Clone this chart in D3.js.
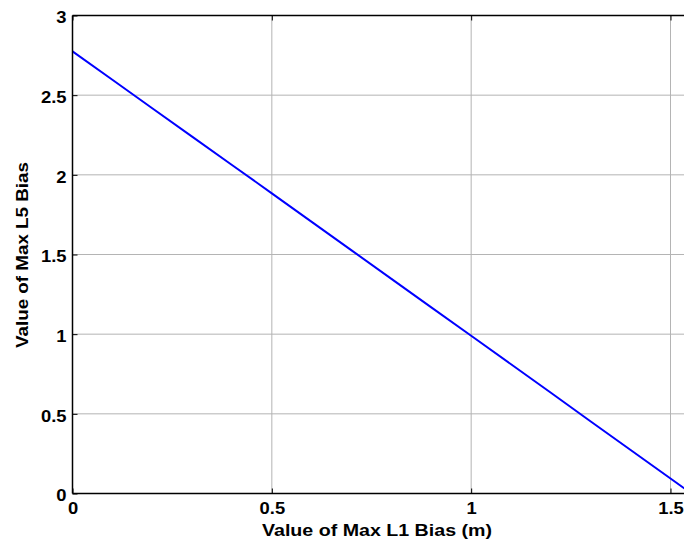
<!DOCTYPE html>
<html>
<head>
<meta charset="utf-8">
<script src="https://cdn.jsdelivr.net/npm/d3@7"></script>
<style>
  html, body { margin: 0; padding: 0; background: #fff; }
  svg { display: block; }
  text { font-family: "Liberation Sans", Arial, sans-serif; font-weight: bold; fill: #000; }
</style>
</head>
<body>
<script>
// ---- data ----
const l1Bias = [0, 0.1, 0.2, 0.3, 0.4, 0.5, 0.6, 0.7, 0.8, 0.9, 1.0, 1.1, 1.2, 1.3, 1.4, 1.5, 1.535];
const l5Bias = [2.775, 2.597, 2.418, 2.240, 2.062, 1.884, 1.705, 1.526, 1.347, 1.168, 0.990, 0.811, 0.632, 0.452, 0.273, 0.094, 0.031];
const xTicks = [0, 0.5, 1, 1.5];
const yTicks = [0, 0.5, 1, 1.5, 2, 2.5, 3];
const xTitle = "Value of Max L1 Bias (m)";
const yTitle = "Value of Max L5 Bias";

const W = 684, H = 543;
const pLeft = 72.5, pTop = 15.5, pBottom = 493.5, pRight = 686;
const FONT = "Liberation Sans, Arial, sans-serif";

const svg = d3.select("body").append("svg").attr("width", W).attr("height", H);

const x = d3.scaleLinear().domain([0, 1.5]).range([pLeft, 670.5]);
const y = d3.scaleLinear().domain([0, 3]).range([pBottom, pTop]);

// grid
const g = svg.append("g");
g.selectAll(".vg").data(xTicks.filter(d => d > 0)).enter().append("line")
  .attr("x1", d => x(d)).attr("x2", d => x(d)).attr("y1", pTop).attr("y2", pBottom)
  .attr("stroke", "#b4b4b4").attr("stroke-width", 1);
g.selectAll(".hg").data(yTicks.filter(d => d > 0 && d < 3)).enter().append("line")
  .attr("x1", pLeft).attr("x2", pRight).attr("y1", d => y(d)).attr("y2", d => y(d))
  .attr("stroke", "#b4b4b4").attr("stroke-width", 1);

// line
svg.append("path")
  .datum(l1Bias.map((v, i) => [v, l5Bias[i]]))
  .attr("fill", "none").attr("stroke", "#0000ff").attr("stroke-width", 2)
  .attr("d", d3.line().x(d => x(d[0])).y(d => y(d[1])));

// axes via d3 axis generators
const fmt = d3.format("~g");
const xAxB = d3.axisBottom(x).tickValues(xTicks).tickSize(-5).tickPadding(9).tickFormat(fmt);
const xAxT = d3.axisTop(x).tickValues(xTicks).tickSize(-5).tickFormat("");
const yAxL = d3.axisLeft(y).tickValues(yTicks).tickSize(-5).tickPadding(6).tickFormat(fmt);

function styleAxis(sel) {
  sel.select(".domain").remove();
  sel.attr("font-size", null).attr("font-family", null);
  sel.selectAll(".tick line").attr("stroke", "#000");
  sel.selectAll("text").style("font-size", "16px").style("font-family", FONT).style("font-weight", "bold").attr("fill", "#000");
}
const gxb = svg.append("g").attr("transform", `translate(0,${pBottom})`).call(xAxB).call(styleAxis);
gxb.selectAll(".tick text").attr("y", null).attr("dy", "0.71em")
  .attr("transform", "translate(0,9) scale(1.15,1)");
svg.append("g").attr("transform", `translate(0,${pTop})`).call(xAxT).call(styleAxis);
const gyl = svg.append("g").attr("transform", `translate(${pLeft},0)`).call(yAxL).call(styleAxis);
gyl.selectAll(".tick text").attr("x", null).attr("dy", "0.45em")
  .attr("transform", "translate(-6,0) scale(1.15,1)");

// frame lines
svg.append("line").attr("x1", pLeft).attr("x2", pRight).attr("y1", pTop).attr("y2", pTop).attr("stroke", "#000").attr("stroke-width", 1.5);
svg.append("line").attr("x1", pLeft).attr("x2", pRight).attr("y1", pBottom).attr("y2", pBottom).attr("stroke", "#000").attr("stroke-width", 1.5);
svg.append("line").attr("x1", pLeft).attr("x2", pLeft).attr("y1", pTop).attr("y2", pBottom).attr("stroke", "#000").attr("stroke-width", 1.5);

// titles
svg.append("text").attr("x", 377).attr("y", 536).attr("text-anchor", "middle")
  .style("font-size", "16px").attr("textLength", 230).attr("lengthAdjust", "spacingAndGlyphs").text(xTitle);
svg.append("text").attr("transform", `translate(28,255) rotate(-90)`).attr("text-anchor", "middle")
  .style("font-size", "16px").attr("textLength", 186).attr("lengthAdjust", "spacingAndGlyphs").text(yTitle);
</script>
</body>
</html>
